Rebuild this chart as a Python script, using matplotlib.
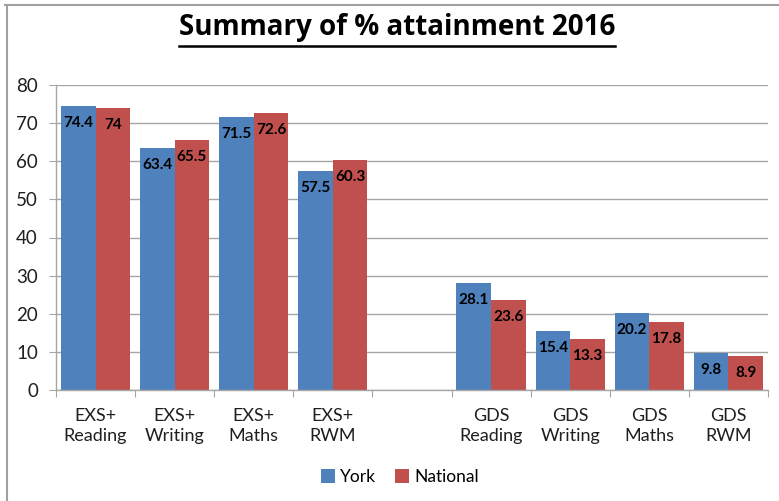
import matplotlib
matplotlib.use("Agg")
import matplotlib.pyplot as plt
from matplotlib.lines import Line2D
import numpy as np

plt.rcParams['font.family'] = ['Lato', 'DejaVu Sans']

categories = ["EXS+\nReading", "EXS+\nWriting", "EXS+\nMaths", "EXS+\nRWM", "",
              "GDS\nReading", "GDS\nWriting", "GDS\nMaths", "GDS\nRWM"]
york     = [74.4, 63.4, 71.5, 57.5, np.nan, 28.1, 15.4, 20.2, 9.8]
national = [74.0, 65.5, 72.6, 60.3, np.nan, 23.6, 13.3, 17.8, 8.9]
york_lbl     = ["74.4", "63.4", "71.5", "57.5", "", "28.1", "15.4", "20.2", "9.8"]
national_lbl = ["74", "65.5", "72.6", "60.3", "", "23.6", "13.3", "17.8", "8.9"]

BLUE = "#4F81BD"
RED  = "#C0504D"
GRID = "#A6A6A6"
TXT  = "#1F1F1F"

fig = plt.figure(figsize=(7.79, 5.01), dpi=100)
ax = fig.add_axes([56/779, 1-390/501, (768-56)/779, (390-85)/501])

x = np.arange(len(categories))
w = 0.4375
b1 = ax.bar(x - w/2, york, w, color=BLUE, label="York")
b2 = ax.bar(x + w/2, national, w, color=RED, label="National")

for bars, lbls in ((b1, york_lbl), (b2, national_lbl)):
    for bar, t in zip(bars, lbls):
        if not t:
            continue
        ax.annotate(t, (bar.get_x() + bar.get_width()/2, bar.get_height()),
                    xytext=(0, -17), textcoords="offset pixels",
                    ha="center", va="center", fontsize=11, fontweight="bold",
                    color="black")

ax.set_xlim(-0.5, len(categories) - 0.5)
ax.set_ylim(0, 80)
ax.set_yticks(range(0, 81, 10))
ax.yaxis.grid(True, color=GRID, linewidth=1)
ax.set_axisbelow(True)
for s in ("top", "right"):
    ax.spines[s].set_visible(False)
for s in ("left", "bottom"):
    ax.spines[s].set_color(GRID)
    ax.spines[s].set_linewidth(1)

ax.set_xticks(np.arange(len(categories) + 1) - 0.5)
ax.set_xticklabels([])
ax.set_xticks(x, minor=True)
ax.set_xticklabels(categories, minor=True, fontsize=13, color=TXT,
                   linespacing=1.32)
ax.tick_params(axis="x", which="minor", length=0, pad=13)
ax.tick_params(axis="x", which="major", length=5, color=GRID)
ax.tick_params(axis="y", length=5, color=GRID, labelsize=13.5, labelcolor=TXT, pad=8)

leg = fig.legend(loc="center", bbox_to_anchor=(400/779, 1-477/501), ncol=2,
                 frameon=False, fontsize=12.5, handlelength=0.8, handleheight=0.8,
                 handletextpad=0.3, columnspacing=1.1)

title = fig.text(397/779, 1-35/501, "Summary of % attainment 2016", ha="center",
                 va="baseline", fontsize=20, fontweight="bold",
                 family=["Open Sans", "DejaVu Sans"])

# outer chart border (top & left only visible)
fig.add_artist(Line2D([5/779, 1], [1-5/501, 1-5/501], color="#A0A0A0", lw=1.5))
fig.add_artist(Line2D([7/779, 7/779], [0, 1-5/501], color="#A0A0A0", lw=1.5))

# underline the title
fig.canvas.draw()
bb = title.get_window_extent()
uy = 1 - 46/501
fig.add_artist(Line2D([bb.x0/779, bb.x1/779], [uy, uy], color="black", lw=1.8))

fig.savefig("out.png", dpi=100)
